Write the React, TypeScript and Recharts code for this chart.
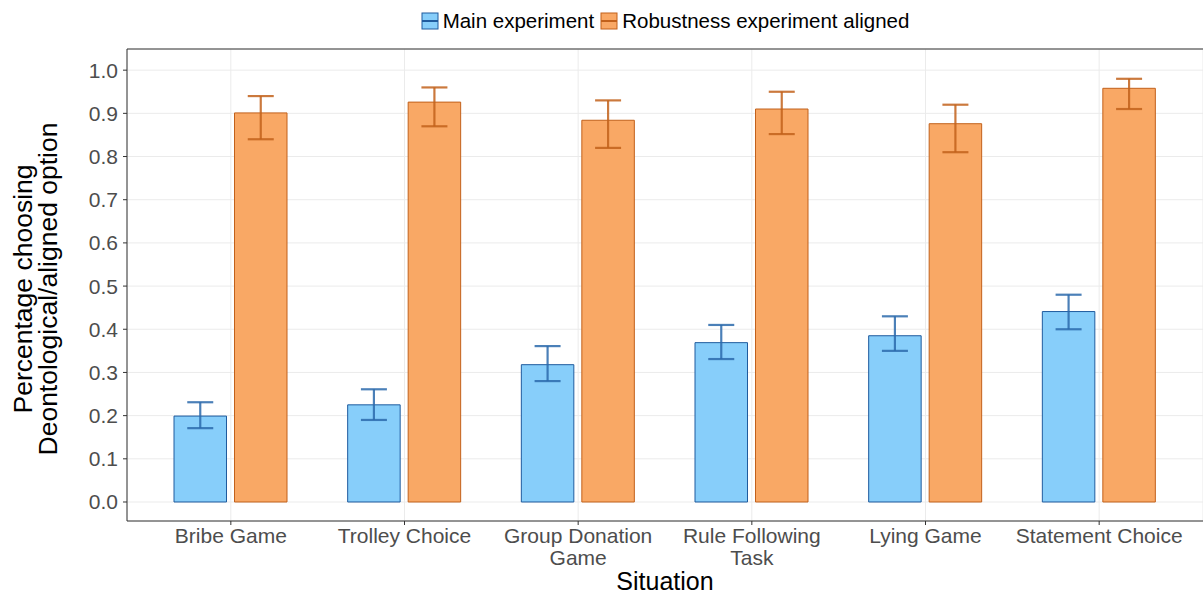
import React from 'react';
import { BarChart, Bar, XAxis, YAxis, CartesianGrid, ErrorBar, ReferenceLine, Label } from 'recharts';

const situations = ['Bribe Game', 'Trolley Choice', 'Group Donation\nGame', 'Rule Following\nTask', 'Lying Game', 'Statement Choice'];

const mainValues = [0.199, 0.225, 0.318, 0.369, 0.385, 0.441];
const mainLow = [0.171, 0.19, 0.28, 0.331, 0.35, 0.40];
const mainHigh = [0.231, 0.261, 0.361, 0.41, 0.43, 0.48];

const robustValues = [0.901, 0.926, 0.884, 0.91, 0.876, 0.958];
const robustLow = [0.84, 0.87, 0.82, 0.852, 0.81, 0.91];
const robustHigh = [0.94, 0.96, 0.93, 0.95, 0.92, 0.98];

const yTicks = [0, 0.1, 0.2, 0.3, 0.4, 0.5, 0.6, 0.7, 0.8, 0.9, 1.0];

const FONT = '"Liberation Sans", Arial, Helvetica, sans-serif';
const BLUE_FILL = '#87CEFA';
const BLUE_LINE = '#1F5B9E';
const ORANGE_FILL = '#F9A865';
const ORANGE_LINE = '#C2611B';

const rows = situations.map((name, i) => ({
    name,
    main: mainValues[i],
    mainErr: [mainValues[i] - mainLow[i], mainHigh[i] - mainValues[i]],
    robust: robustValues[i],
    robustErr: [robustValues[i] - robustLow[i], robustHigh[i] - robustValues[i]],
}));

const CategoryTick = (props: any) => {
    const { x, y, payload } = props;
    const lines = String(payload.value).split('\n');
    return (
        <text x={x} y={y + 16} textAnchor="middle" fill="#4D4D4D" fontSize={21} fontFamily={FONT}>
            {lines.map((l, i) => (
                <tspan key={i} x={x} dy={i === 0 ? 0 : 22}>{l}</tspan>
            ))}
        </text>
    );
};

// titres des axes posés à la main (deux lignes pour l'axe Y)
const YTitle = () => (
    <text transform="translate(0,289) rotate(-90)" textAnchor="middle" fill="#000" fontSize={26.5} fontFamily={FONT}>
        <tspan x={0} y={32}>Percentage choosing</tspan>
        <tspan x={0} y={57}>Deontological/aligned option</tspan>
    </text>
);

const XTitle = () => (
    <text x={665} y={590} textAnchor="middle" fill="#000" fontSize={25} fontFamily={FONT}>Situation</text>
);

const LegendKey = ({ fill, line }: { fill: string; line: string }) => (
    <svg width={18} height={18} style={{ marginRight: 4 }}>
        <rect x={1} y={1} width={16} height={16} fill={fill} stroke={line} strokeWidth={1} />
        <line x1={1} x2={17} y1={9} y2={9} stroke={line} strokeWidth={2} />
    </svg>
);

const App: React.FC = () => {
    return (
        <div style={{ position: 'absolute', left: 0, top: 0, width: 1203, height: 596, background: '#fff', fontFamily: FONT }}>
            <div style={{ position: 'absolute', top: 9, left: 127, width: 1076, display: 'flex', justifyContent: 'center', alignItems: 'center', fontSize: 20.5, color: '#000' }}>
                <LegendKey fill={BLUE_FILL} line={BLUE_LINE} />
                <span style={{ marginRight: 6 }}>Main experiment</span>
                <LegendKey fill={ORANGE_FILL} line={ORANGE_LINE} />
                <span>Robustness experiment aligned</span>
            </div>
            <BarChart
                width={1203}
                height={596}
                data={rows}
                margin={{ top: 49, right: 0, left: 0, bottom: 0 }}
                barSize={52.5}
                barGap={8}
            >
                <CartesianGrid stroke="#EBEBEB" strokeWidth={1} />
                <XAxis
                    dataKey="name"
                    interval={0}
                    padding={{ left: 17, right: 17 }}
                    tick={<CategoryTick />}
                    tickLine={{ stroke: '#333' }}
                    tickSize={4}
                    axisLine={{ stroke: '#333', strokeWidth: 1 }}
                    height={75}
                >
                    <Label content={<XTitle />} />
                </XAxis>
                <YAxis
                    type="number"
                    domain={[-0.044, 1.049]}
                    allowDataOverflow
                    ticks={yTicks}
                    interval={0}
                    width={127}
                    tickFormatter={(v: number) => v.toFixed(1)}
                    tick={{ fill: '#4D4D4D', fontSize: 21, fontFamily: FONT }}
                    tickLine={{ stroke: '#333' }}
                    tickSize={4}
                    tickMargin={5}
                    axisLine={{ stroke: '#333', strokeWidth: 1 }}
                    label={<YTitle />}
                />
                <ReferenceLine y={1.049} stroke="#333" strokeWidth={1} ifOverflow="extendDomain" />
                <Bar dataKey="main" fill={BLUE_FILL} stroke={BLUE_LINE} strokeWidth={1} isAnimationActive={false}>
                    <ErrorBar dataKey="mainErr" width={13} stroke="#2B6AAB" strokeWidth={2.2} strokeOpacity={0.85} isAnimationActive={false} />
                </Bar>
                <Bar dataKey="robust" fill={ORANGE_FILL} stroke={ORANGE_LINE} strokeWidth={1} isAnimationActive={false}>
                    <ErrorBar dataKey="robustErr" width={13} stroke="#C2611B" strokeWidth={2.2} strokeOpacity={0.85} isAnimationActive={false} />
                </Bar>
            </BarChart>
        </div>
    );
};

export default App;
